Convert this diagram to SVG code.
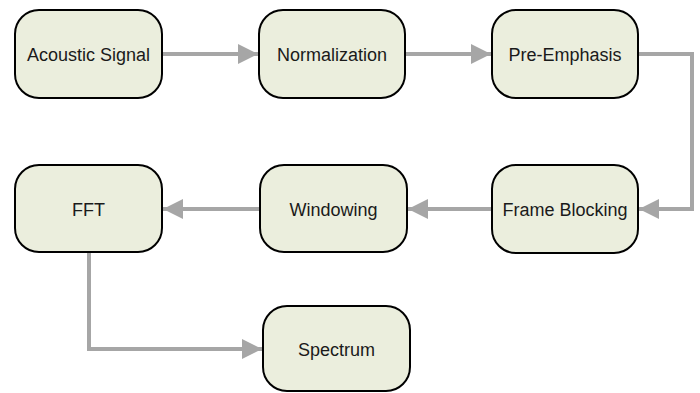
<svg xmlns="http://www.w3.org/2000/svg" width="700" height="393" viewBox="0 0 700 393">
<style>
.n{fill:#ebeedd;stroke:#000;stroke-width:2}
.t{font-family:"Liberation Sans",Arial,sans-serif;font-size:18px;fill:#1a1a1a;text-anchor:middle}
.c{fill:none;stroke:#a6a6a6;stroke-width:4}
</style>
<defs>
<marker id="ah" viewBox="0 0 10 10" refX="10" refY="5" markerWidth="5" markerHeight="5" markerUnits="strokeWidth" orient="auto">
<path d="M0,0 L10,5 L0,10 Z" fill="#a6a6a6"/>
</marker>
</defs>
<rect width="700" height="393" fill="#fff"/>
<g id="connectors">
<path class="c" d="M162,54 H258" marker-end="url(#ah)"/>
<path class="c" d="M405,54 H491" marker-end="url(#ah)"/>
<path class="c" d="M638,54 H692 V209 H639" marker-end="url(#ah)"/>
<path class="c" d="M492,209 H408" marker-end="url(#ah)"/>
<path class="c" d="M260,209 H163" marker-end="url(#ah)"/>
<path class="c" d="M89,252 V349 H262" marker-end="url(#ah)"/>
</g>
<g id="acoustic"><rect class="n" x="15" y="10" width="147" height="88" rx="24"/><text class="t" x="88.5" y="61">Acoustic Signal</text></g>
<g id="normalization"><rect class="n" x="259" y="10" width="146" height="88" rx="24"/><text class="t" x="332" y="61">Normalization</text></g>
<g id="preemphasis"><rect class="n" x="492" y="10" width="146" height="88" rx="24"/><text class="t" x="565" y="61">Pre-Emphasis</text></g>
<g id="frameblocking"><rect class="n" x="492" y="165" width="146" height="88" rx="24"/><text class="t" x="565" y="216">Frame Blocking</text></g>
<g id="windowing"><rect class="n" x="260" y="165" width="147" height="87" rx="24"/><text class="t" x="333.5" y="216">Windowing</text></g>
<g id="fft"><rect class="n" x="15" y="165" width="147" height="87" rx="24"/><text class="t" x="88.5" y="216">FFT</text></g>
<g id="spectrum"><rect class="n" x="263" y="306" width="147" height="85" rx="24"/><text class="t" x="336.5" y="356">Spectrum</text></g>
</svg>
